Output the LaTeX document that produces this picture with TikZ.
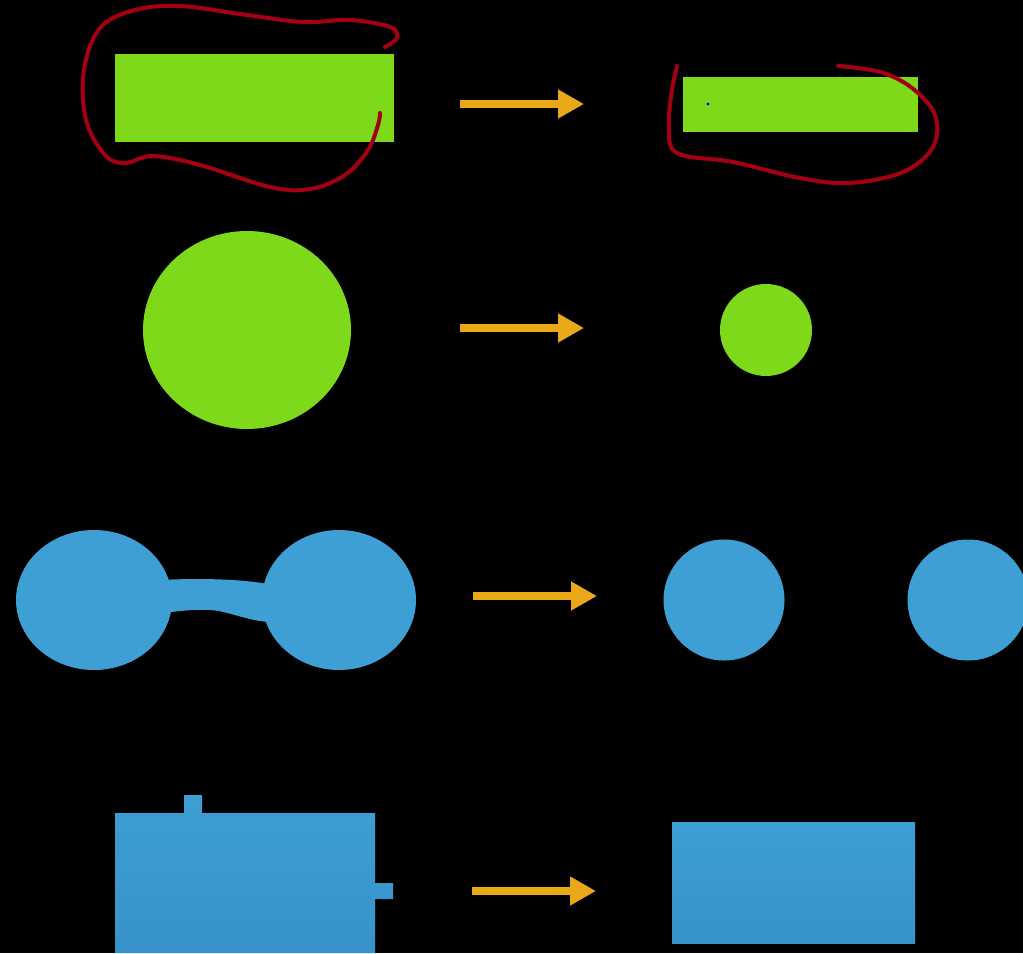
\documentclass[tikz,border=0pt]{standalone}
\usetikzlibrary{arrows.meta}
\definecolor{leaf}{RGB}{126,217,26}
\definecolor{sky}{RGB}{61,159,211}
\definecolor{skydark}{RGB}{55,146,201}
\definecolor{amber}{RGB}{232,168,23}
\definecolor{ink}{RGB}{165,0,18}
\tikzset{
  greenshape/.style={fill=leaf},
  blueshape/.style={fill=sky},
  blueblock/.style={top color=sky, bottom color=skydark, draw=none},
  fatarrow/.style={draw=amber, line width=6pt,
    -{Triangle[length=19.5pt,width=20.5pt,fill=amber]}},
  scribble/.style={draw=ink, line width=3pt, line cap=round, line join=round}
}
\begin{document}
\begin{tikzpicture}[x=0.75pt, y=-0.75pt]
  % canvas
  \fill[black] (0,0) rectangle (1023,953);
  \useasboundingbox (0,0) rectangle (1023,953);
  \begin{scope}
  \clip (0,0) rectangle (1023,953);

  % row 1: long green bar and its shorter version
  \fill[greenshape] (115,54) rectangle (394,142);
  \fill[greenshape] (683,77) rectangle (918,132);
  \fill[blue!70!black] (708,104) circle (1.6);

  % hand-drawn loops around the bars
  \draw[scribble] plot[smooth, tension=0.6] coordinates {
    (385,47) (397,38) (390,27) (350,20) (303,22) (240,14) (180,6) (135,10)
    (100,28) (84,70) (86,120) (105,155) (125,163) (153,156) (200,165)
    (270,187) (310,189) (345,175) (368,150) (378,125) (380,113)};
  \draw[scribble] plot[smooth, tension=0.6] coordinates {
    (677,66) (672,90) (669,125) (677,153) (733,162) (800,178) (850,183)
    (903,172) (933,147) (935,115) (912,88) (880,72) (838,66)};

  % row 2: green discs
  \fill[greenshape] (247,330) ellipse (104 and 99);
  \fill[greenshape] (766,330) circle (46);

  % row 3: dumbbell split in two
  \fill[blueshape] (160,580) .. controls (200,578) and (240,579) .. (268,584)
    -- (268,622) .. controls (245,620) and (228,611) .. (210,610)
    .. controls (190,609) and (175,612) .. (160,613) -- cycle;
  \fill[blueshape] (94,600) ellipse (78 and 70);
  \fill[blueshape] (339,600) ellipse (77 and 70);
  \fill[blueshape] (724,600) circle (60.5);
  \fill[blueshape] (968,600) circle (60.5);

  % row 4: block with tabs and plain block
  \shade[blueblock] (115,813) -- (184,813) -- (184,795) -- (202,795) -- (202,813)
    -- (375,813) -- (375,883) -- (393,883) -- (393,899) -- (375,899)
    -- (375,953) -- (115,953) -- cycle;
  \shade[blueblock] (672,822) rectangle (915,943);

  % arrows
  \coordinate (a1s) at (460,104);  \coordinate (a1e) at (584,104);
  \coordinate (a2s) at (460,328);  \coordinate (a2e) at (584,328);
  \coordinate (a3s) at (473,596);  \coordinate (a3e) at (597,596);
  \coordinate (a4s) at (472,891);  \coordinate (a4e) at (596,891);
  \draw[fatarrow] (a1s) -- (a1e);
  \draw[fatarrow] (a2s) -- (a2e);
  \draw[fatarrow] (a3s) -- (a3e);
  \draw[fatarrow] (a4s) -- (a4e);
  \end{scope}
\end{tikzpicture}
\end{document}
